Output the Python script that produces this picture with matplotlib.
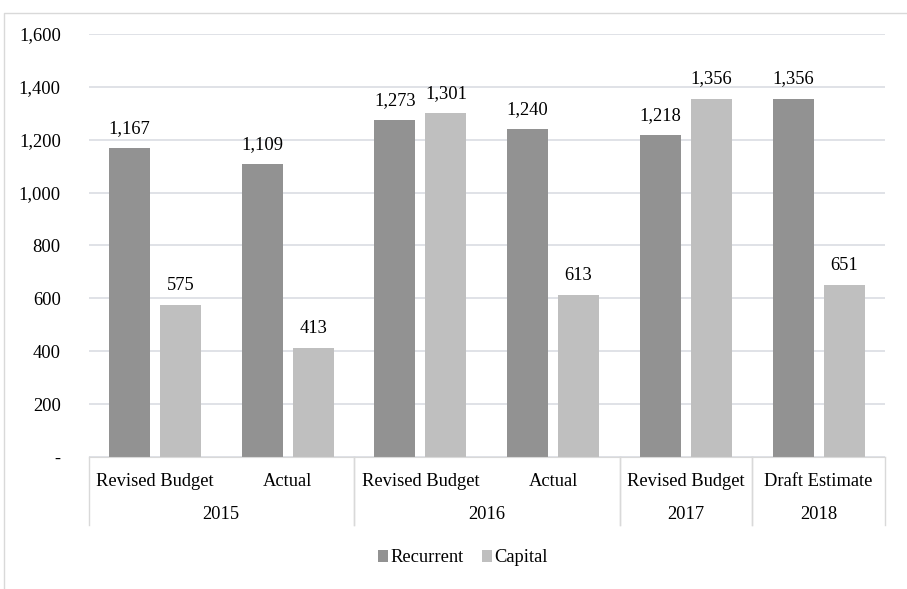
import matplotlib.pyplot as plt
from matplotlib.lines import Line2D
from matplotlib.ticker import FuncFormatter
import matplotlib.transforms as mtransforms

# Budget figures by period
periods = ["Revised Budget", "Actual", "Revised Budget", "Actual", "Revised Budget", "Draft Estimate"]
years = ["2015", "2016", "2017", "2018"]
year_spans = [(0, 1), (2, 3), (4, 4), (5, 5)]
recurrent = [1167, 1109, 1273, 1240, 1218, 1356]
capital = [575, 413, 1301, 613, 1356, 651]

plt.rcParams['font.family'] = ['Liberation Serif', 'DejaVu Serif']
fs = 13.3

W, H = 907, 589
fig = plt.figure(figsize=(W / 100, H / 100), dpi=100)
ax = fig.add_axes([88.5 / W, 1 - 457 / H, (885 - 88.5) / W, (457 - 34) / H])

x = list(range(len(periods)))
bw = 0.309
off = 0.192
dark = '#929292'
light = '#bfbfbf'
b1 = ax.bar([i - off for i in x], recurrent, bw, color=dark, label='Recurrent', zorder=3)
b2 = ax.bar([i + off for i in x], capital, bw, color=light, label='Capital', zorder=3)

for bars, vals in ((b1, recurrent), (b2, capital)):
    for r, v in zip(bars, vals):
        ax.annotate(f"{v:,}", (r.get_x() + r.get_width() / 2, v), xytext=(0, 8),
                    textcoords='offset points', ha='center', va='bottom', fontsize=fs)

ax.set_ylim(0, 1600)
ax.set_xlim(-0.5, len(periods) - 0.5)
ax.set_yticks(range(0, 1601, 200))
ax.yaxis.set_major_formatter(FuncFormatter(lambda v, p: '-' if v == 0 else f"{int(v):,}"))
ax.tick_params(axis='y', length=0, pad=20, labelsize=fs)
ax.set_xticks([])
ax.grid(axis='y', color='#dadde3', linewidth=1.2, zorder=0)
for s in ('top', 'right', 'left'):
    ax.spines[s].set_visible(False)
ax.spines['bottom'].set_color('#d9d9d9')
ax.spines['bottom'].set_zorder(4)

# two-level category axis
trans = mtransforms.blended_transform_factory(ax.transData, ax.transAxes)
for i, p in enumerate(periods):
    ax.text(i, -0.059, p, transform=trans, ha='center', va='center', fontsize=fs)
sep_bottom = -(525 - 457) / (457 - 34)
for yr, (a, b) in zip(years, year_spans):
    ax.text((a + b) / 2, -0.137, yr, transform=trans, ha='center', va='center', fontsize=fs)
    for edge in (a - 0.5, b + 0.5):
        ax.plot([edge, edge], [0, sep_bottom], transform=trans, color='#d9d9d9',
                linewidth=1, clip_on=False)

fig.legend(handles=[b1, b2], loc='center', bbox_to_anchor=(463 / W, 1 - 558 / H), ncol=2,
           frameon=False, fontsize=fs, handlelength=0.55, handleheight=0.55,
           handletextpad=0.15, columnspacing=0.95)

# chart frame
fig.add_artist(Line2D([3.5 / W, 3.5 / W, 1], [0, 1 - 12.5 / H, 1 - 12.5 / H],
                      color='#d9d9d9', linewidth=1))

fig.savefig('out.png', dpi=100)
